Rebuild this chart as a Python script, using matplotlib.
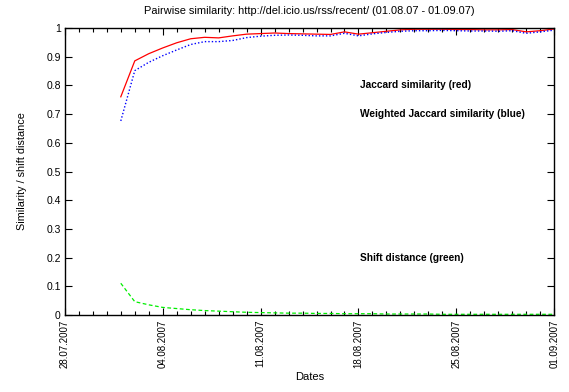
import numpy as np
import pandas as pd
import matplotlib
matplotlib.use('Agg')
import matplotlib.pyplot as plt
import matplotlib.dates as mdates

plt.rcParams['font.family'] = ['Liberation Sans', 'DejaVu Sans']

# daily values, 01.08.2007 - 01.09.2007
dates = pd.date_range('2007-08-01', '2007-09-01', freq='D')
jaccard = [0.760, 0.885, 0.910, 0.930, 0.948, 0.962, 0.967, 0.965, 0.972, 0.978,
           0.980, 0.982, 0.980, 0.979, 0.978, 0.977, 0.986, 0.978, 0.983, 0.988,
           0.993, 0.995, 0.995, 0.995, 0.994, 0.994, 0.993, 0.993, 0.994, 0.986,
           0.990, 0.996]
weighted = [0.676, 0.851, 0.880, 0.903, 0.923, 0.942, 0.952, 0.952, 0.956, 0.966,
            0.971, 0.974, 0.975, 0.974, 0.972, 0.972, 0.981, 0.972, 0.979, 0.984,
            0.988, 0.990, 0.990, 0.991, 0.990, 0.989, 0.989, 0.988, 0.990, 0.981,
            0.986, 0.992]
shift = [0.111, 0.047, 0.036, 0.027, 0.023, 0.019, 0.016, 0.014, 0.012, 0.010,
         0.009, 0.008, 0.007, 0.007, 0.006, 0.006, 0.005, 0.005, 0.005, 0.004,
         0.004, 0.004, 0.004, 0.003, 0.003, 0.003, 0.003, 0.003, 0.003, 0.003,
         0.003, 0.003]

tick_dates = pd.date_range('2007-07-28', '2007-08-25', freq='7D').append(pd.DatetimeIndex(['2007-09-01']))

fig = plt.figure(figsize=(5.69, 3.92), dpi=100)
ax = fig.add_axes([0.114, 0.196, 0.860, 0.733])

ax.plot(dates, jaccard, color='#ff0000', lw=0.9, ls='-')
ax.plot(dates, weighted, color='#0000ff', lw=1.0, ls=(0, (1, 1.5)))
ax.plot(dates, shift, color='#00ee00', lw=0.9, ls=(0, (3, 2)))

ax.set_xlim(pd.Timestamp('2007-07-28'), pd.Timestamp('2007-09-01'))
ax.set_ylim(0, 1)
ax.set_xticks(tick_dates)
ax.set_xticklabels([d.strftime('%d.%m.%Y') for d in tick_dates], rotation=90, fontsize=7)
ax.xaxis.set_minor_locator(mdates.DayLocator())
ax.set_yticks(np.arange(0, 1.01, 0.1))
ax.set_yticklabels(['0'] + ['%.1f' % v for v in np.arange(0.1, 0.95, 0.1)] + ['1'], fontsize=7.5)

ax.tick_params(which='both', direction='in', top=True, right=True, width=0.8, pad=3)
ax.tick_params(which='major', length=5)
ax.tick_params(which='minor', length=3)
for s in ax.spines.values():
    s.set_linewidth(1.0)

lbl_x = pd.Timestamp('2007-08-18 03:00')
ax.text(lbl_x, 0.80, 'Jaccard similarity (red)', fontsize=7.3, fontweight='bold', va='center')
ax.text(lbl_x, 0.70, 'Weighted Jaccard similarity (blue)', fontsize=7.3, fontweight='bold', va='center')
ax.text(lbl_x, 0.20, 'Shift distance (green)', fontsize=7.3, fontweight='bold', va='center')

ax.set_title('Pairwise similarity: http://del.icio.us/rss/recent/ (01.08.07 - 01.09.07)', fontsize=7.9, pad=10)
ax.set_ylabel('Similarity / shift distance', fontsize=7.8, labelpad=14)
ax.set_xlabel('Dates', fontsize=8, labelpad=3)

plt.savefig('out.png', dpi=100)
